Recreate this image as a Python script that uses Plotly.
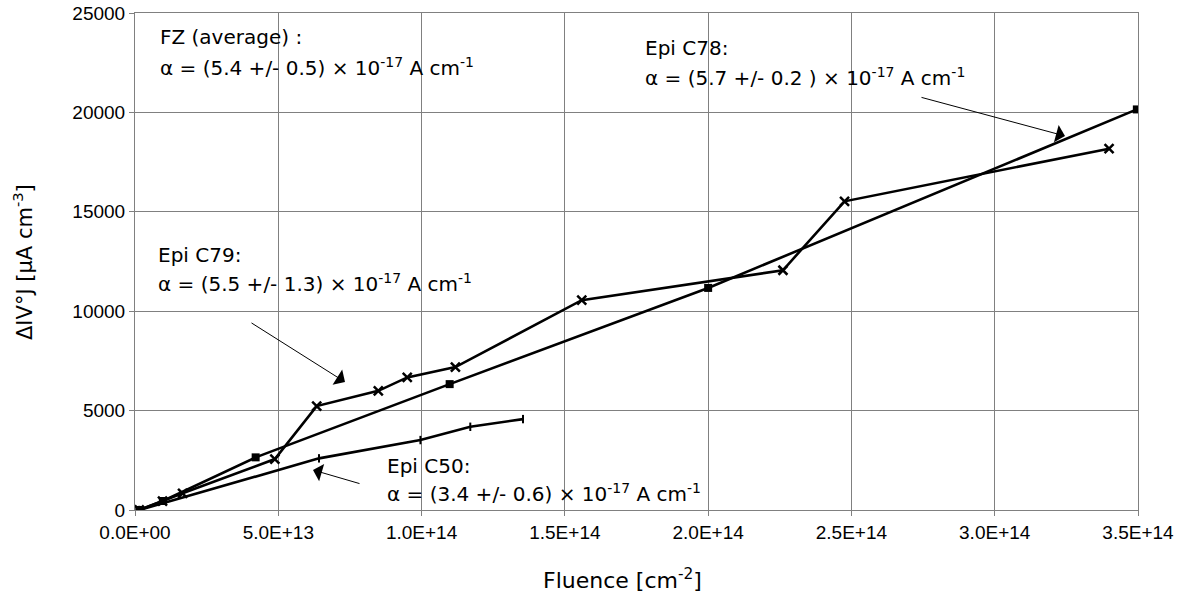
import plotly.graph_objects as go

# ---- data ----
fz_x = [1.5e12, 9.7e12, 4.21e13, 1.098e14, 2.0e14, 3.496e14]
fz_y = [0, 452, 2648, 6332, 11171, 20150]

epi_x = [1.5e12, 9.6e12, 1.66e13, 4.88e13, 6.34e13, 8.49e13, 9.5e13, 1.118e14,
         1.559e14, 2.261e14, 2.476e14, 3.399e14]
epi_y = [0, 450, 840, 2563, 5226, 5995, 6668, 7186, 10553, 12060, 15527, 18176]

c50_x = [1.5e12, 6.42e13, 9.96e13, 1.17e14, 1.354e14]
c50_y = [0, 2598, 3518, 4186, 4573]

x_tickvals = [0, 5e13, 1e14, 1.5e14, 2e14, 2.5e14, 3e14, 3.5e14]
x_ticktext = ["0.0E+00", "5.0E+13", "1.0E+14", "1.5E+14", "2.0E+14",
              "2.5E+14", "3.0E+14", "3.5E+14"]
y_tickvals = [0, 5000, 10000, 15000, 20000, 25000]

# ---- layout helpers (pixel -> paper) ----
L, R, T, B = 135, 1138, 13, 510
W, H = 1182, 596
def px(x):
    return (x - L) / (R - L)
def py(y):
    return (B - y) / (B - T)

fig = go.Figure()
fig.add_trace(go.Scatter(x=fz_x, y=fz_y, mode="lines+markers", name="FZ",
                         line=dict(color="black", width=2.6),
                         marker=dict(symbol="square", size=8, color="black")))
fig.add_trace(go.Scatter(x=c50_x, y=c50_y, mode="lines+markers", name="Epi C50",
                         line=dict(color="black", width=2.6),
                         marker=dict(symbol="line-ns-open", size=6,
                                     line=dict(color="black", width=2))))
fig.add_trace(go.Scatter(x=epi_x, y=epi_y, mode="lines+markers", name="Epi",
                         line=dict(color="black", width=2.6),
                         marker=dict(symbol="x-thin-open", size=9,
                                     line=dict(color="black", width=2.5))))

# white label boxes that hide the grid
boxes = [(137, 25, 480, 88), (636, 35, 985, 95), (137, 243, 484, 303), (375, 450, 722, 505)]
for x0, y0, x1, y1 in boxes:
    fig.add_shape(type="rect", xref="paper", yref="paper",
                  x0=px(x0), x1=px(x1), y0=py(y1), y1=py(y0),
                  fillcolor="white", line=dict(width=0), layer="between")

tfont = dict(family="DejaVu Sans", size=20, color="black")
sup17 = "<sup>-17</sup>"
texts = [
    (158, 37, "FZ (average) :"),
    (158, 67, "α = (5.4 +/- 0.5) × 10" + sup17 + " A cm<sup>-1</sup>"),
    (643, 48, "Epi C78:"),
    (643, 77, "α = (5.7 +/- 0.2 ) × 10" + sup17 + " A cm<sup>-1</sup>"),
    (156, 255, "Epi C79:"),
    (156, 283, "α = (5.5 +/- 1.3) × 10" + sup17 + " A cm<sup>-1</sup>"),
    (385, 466, "Epi C50:"),
    (385, 493, "α = (3.4 +/- 0.6) × 10" + sup17 + " A cm<sup>-1</sup>"),
]
for x, y, t in texts:
    fig.add_annotation(x=px(x), y=py(y), xref="paper", yref="paper", text=t,
                       showarrow=False, xanchor="left", yanchor="middle", font=tfont)

arrows = [((1065, 136), (920, 97)), ((345, 382), (250, 322)), ((313, 470), (361, 484))]
for (hx, hy), (tx, ty) in arrows:
    fig.add_annotation(x=px(hx), y=py(hy), xref="paper", yref="paper", text="",
                       showarrow=True, axref="pixel", ayref="pixel",
                       ax=tx - hx, ay=ty - hy, arrowhead=1, arrowsize=3,
                       arrowwidth=1, arrowcolor="black", standoff=0)

# axis titles
fig.add_annotation(x=px(622), y=py(579), xref="paper", yref="paper",
                   text="Fluence [cm<sup>-2</sup>]", showarrow=False,
                   xanchor="center", yanchor="middle",
                   font=dict(family="DejaVu Sans", size=22, color="black"))
fig.add_annotation(x=px(23), y=py(262), xref="paper", yref="paper",
                   text="ΔIV°J [μA cm<sup>-3</sup>]", showarrow=False, textangle=-90,
                   xanchor="center", yanchor="middle",
                   font=dict(family="DejaVu Sans", size=21, color="black"))

axfont = dict(family="Liberation Sans, Arial", size=19, color="black")
common = dict(showgrid=True, gridcolor="#808080", gridwidth=1,
              showline=True, linecolor="#808080", linewidth=1, mirror=True,
              ticks="outside", ticklen=5, tickcolor="#808080",
              zeroline=False, tickfont=axfont, automargin=False)
fig.update_xaxes(range=[0, 3.5e14], tickvals=x_tickvals, ticktext=x_ticktext, **common)
fig.update_yaxes(range=[0, 25000], tickvals=y_tickvals, tickformat="d", **common)
fig.update_layout(width=W, height=H, margin=dict(l=L, r=W - R, t=T, b=H - B),
                  plot_bgcolor="white", paper_bgcolor="white", showlegend=False)
fig.write_html("out.html")
